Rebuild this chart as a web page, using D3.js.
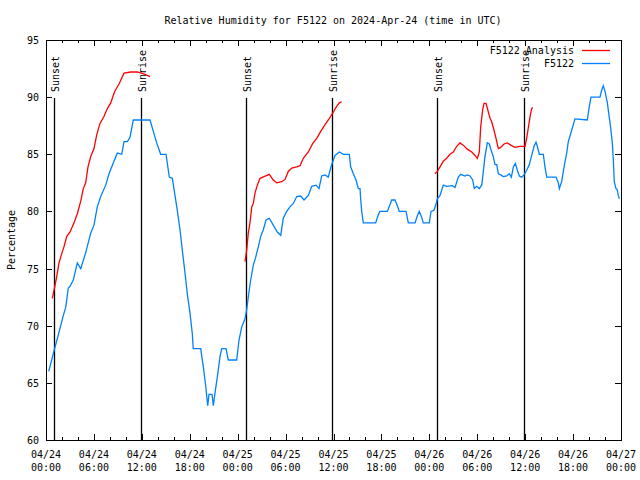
<!DOCTYPE html>
<html><head><meta charset="utf-8">
<script src="https://cdn.jsdelivr.net/npm/d3@7"></script>
<style>
body{margin:0;background:#fff;}
svg{display:block;}
text{font-family:"DejaVu Sans Mono","Liberation Mono",monospace;font-size:10px;fill:#000;}
</style></head><body>
<svg id="c" width="640" height="480"></svg>
<script>
// Hours since 2024-04-24 00:00 UTC
const obsHours = [0.34,1.04,1.54,2.17,2.47,2.79,2.97,3.42,3.92,4.35,4.97,5.60,6.01,6.42,6.85,7.48,7.89,8.51,8.93,9.48,9.77,10.18,10.52,10.93,13.02,13.44,13.86,14.36,15.03,15.44,15.82,16.15,16.44,16.78,17.07,17.41,17.69,18.03,18.32,18.44,19.37,19.70,20.00,20.25,20.41,20.79,20.95,21.16,21.45,21.79,22.00,22.54,22.83,23.88,24.17,24.51,24.92,25.13,25.33,25.63,25.96,26.26,26.58,26.88,27.21,27.55,27.96,28.46,28.96,29.39,29.71,30.14,30.55,30.97,31.39,31.89,32.31,32.85,33.27,33.81,34.18,34.52,34.94,35.35,35.65,35.90,36.19,36.73,37.23,37.98,38.15,38.48,38.82,39.11,39.32,39.41,39.53,39.73,41.28,41.61,41.82,42.74,43.08,43.29,43.70,43.99,44.24,45.08,45.37,46.21,46.49,46.74,47.04,47.24,48.00,48.21,48.58,48.83,49.00,49.34,49.75,50.18,50.88,51.21,51.63,51.93,52.47,52.75,53.09,53.43,53.63,53.93,54.26,54.56,54.76,54.97,55.26,55.51,55.72,56.01,56.22,56.44,56.64,56.94,57.26,57.69,58.01,58.27,58.52,58.77,59.02,59.27,59.57,59.85,60.19,60.52,60.82,61.11,61.36,61.52,61.77,62.27,62.48,62.70,63.86,64.15,64.28,64.57,64.78,64.99,65.20,65.40,65.70,66.03,66.24,67.78,68.03,68.24,69.37,69.58,69.78,70.00,70.29,70.50,70.71,70.91,71.04,71.16,71.37,71.53,71.66,71.79];
const obsValues = [66.0,67.9,69.2,70.9,71.6,73.3,73.4,74.0,75.5,75.0,76.4,78.1,78.8,80.4,81.3,82.3,83.3,84.4,85.1,85.0,86.1,86.1,86.5,88.0,88.0,87.0,86.0,85.0,85.0,83.0,82.9,81.4,80.1,78.4,76.6,74.6,72.8,71.1,69.3,68.0,68.0,66.4,64.7,63.0,64.0,64.0,63.0,64.1,65.5,67.3,68.0,68.0,67.0,67.0,68.75,69.9,70.6,71.4,72.5,74.0,75.3,76.0,76.9,77.8,78.4,79.25,79.4,78.8,78.2,77.9,79.4,80.0,80.4,80.7,81.3,81.35,81.0,81.4,82.2,82.3,82.0,83.1,83.2,83.0,83.8,84.35,84.9,85.2,85.0,85.0,83.9,83.3,82.75,82.0,82.0,81.0,80.0,79.0,79.0,79.7,80.0,80.0,80.6,81.0,81.0,80.5,80.0,80.0,79.0,79.0,79.6,80.0,79.5,79.0,79.0,80.0,80.1,80.6,81.1,81.4,82.3,82.2,82.25,82.1,83.0,83.25,83.1,83.2,83.1,82.75,82.0,82.2,82.0,82.3,83.5,84.8,86.0,85.9,85.4,84.8,84.1,84.1,83.3,83.2,83.05,83.1,83.3,83.0,83.9,84.2,83.6,83.1,83.0,83.2,83.6,84.1,84.9,85.7,86.05,85.7,85.0,85.0,83.9,83.0,83.0,82.5,82.0,82.6,83.5,84.35,85.1,86.1,86.8,87.6,88.1,88.0,89.2,90.0,90.0,90.6,91.0,90.5,89.5,88.4,87.3,86.0,84.5,82.6,82.0,81.9,81.4,81.1];

// Analysis series: null marks a gap between runs
const anaHours = [0.79,1.09,1.34,1.63,1.92,2.25,2.59,3.01,3.51,3.92,4.35,4.67,4.97,5.26,5.60,6.01,6.35,6.76,7.26,7.68,8.10,8.60,9.14,9.77,10.61,11.43,12.40,13.02,13.5,
  24.92,25.13,25.33,25.54,25.76,25.96,26.17,26.46,26.80,27.30,27.96,28.46,28.89,29.51,29.93,30.34,30.77,31.39,31.81,32.22,32.85,33.40,33.90,34.40,34.94,35.35,35.90,36.40,36.73,37.03,37.5,
  48.71,49.00,49.34,49.75,50.18,50.59,51.00,51.43,51.84,52.25,52.75,53.31,53.72,54.01,54.26,54.43,54.68,54.85,55.10,55.31,55.60,55.81,56.10,56.35,56.64,56.94,57.35,57.76,58.19,58.73,59.35,59.98,60.19,60.39,60.61,60.82,60.94];
const anaValues = [72.4,73.4,74.3,75.5,76.2,76.9,77.8,78.2,79.0,79.8,80.9,82.0,82.5,83.9,84.8,85.5,86.7,87.7,88.3,89.0,89.5,90.5,91.15,92.1,92.2,92.2,92.0,91.8,null,
  75.6,76.6,78.1,79.0,80.4,80.7,81.6,82.3,82.9,83.05,83.25,82.75,82.5,82.6,82.8,83.5,83.8,83.9,84.0,84.65,85.2,85.95,86.4,87.0,87.6,88.0,88.6,89.2,89.5,89.6,null,
  83.3,83.5,83.9,84.4,84.65,85.0,85.2,85.7,86.0,85.8,85.45,85.2,84.9,84.65,85.2,87.4,88.9,89.46,89.46,88.9,88.15,87.85,87.1,86.4,85.5,85.6,85.9,86.0,85.8,85.6,85.7,85.7,86.4,87.3,88.3,89.0,89.1];

const sunEventHours = [1.04,11.95,25.07,35.8,48.97,59.86];
const sunEventLabels = ["Sunset","Sunrise","Sunset","Sunrise","Sunset","Sunrise"];
const yTicks = [60,65,70,75,80,85,90,95];
const seriesNames = ["F5122 Analysis","F5122"];
const seriesColors = ["#ff0000","#0080ff"];
const titleText = "Relative Humidity for F5122 on 2024-Apr-24 (time in UTC)";

const start = Date.UTC(2024,3,24,0,0);
const toDate = h => new Date(start + h*3600000);

const L=46, R=621, T=40, B=440;
const svg = d3.select("#c");
const x = d3.scaleUtc().domain([toDate(0), toDate(72)]).range([L,R]);
const y = d3.scaleLinear().domain([60,95]).range([B,T]);

// frame
svg.append("rect").attr("x",L+0.5).attr("y",T+0.5).attr("width",R-L).attr("height",B-T)
  .attr("fill","none").attr("stroke","#000").attr("stroke-width",1);

// x ticks
const major = d3.range(0,73,6).map(toDate);
const minor = d3.range(0,73,2).filter(h=>h%6!==0).map(toDate);
const fmtD = d3.utcFormat("%m/%d"), fmtT = d3.utcFormat("%H:%M");
const gx = svg.append("g");
major.forEach(d=>{
  const px = Math.round(x(d))+0.5;
  gx.append("line").attr("x1",px).attr("x2",px).attr("y1",B).attr("y2",B-6).attr("stroke","#000");
  gx.append("line").attr("x1",px).attr("x2",px).attr("y1",T).attr("y2",T+6).attr("stroke","#000");
  gx.append("text").attr("x",x(d)).attr("y",458).attr("text-anchor","middle").text(fmtD(d));
  gx.append("text").attr("x",x(d)).attr("y",471).attr("text-anchor","middle").text(fmtT(d));
});
minor.forEach(d=>{
  const px = Math.round(x(d))+0.5;
  gx.append("line").attr("x1",px).attr("x2",px).attr("y1",B).attr("y2",B-3).attr("stroke","#000");
  gx.append("line").attr("x1",px).attr("x2",px).attr("y1",T).attr("y2",T+3).attr("stroke","#000");
});
// y ticks
const gy = svg.append("g");
yTicks.forEach(v=>{
  const py = Math.round(y(v))+0.5;
  gy.append("line").attr("x1",L).attr("x2",L+6).attr("y1",py).attr("y2",py).attr("stroke","#000");
  gy.append("line").attr("x1",R).attr("x2",R-6).attr("y1",py).attr("y2",py).attr("stroke","#000");
  gy.append("text").attr("x",39).attr("y",y(v)+4).attr("text-anchor","end").text(v);
});

// sun lines
sunEventHours.forEach((h,i)=>{
  const px = Math.round(x(toDate(h)))+0.5;
  svg.append("line").attr("x1",px).attr("x2",px).attr("y1",98).attr("y2",B).attr("stroke","#000").attr("stroke-width",1.3);
  svg.append("text").attr("transform",`translate(${px+4},92) rotate(-90)`).attr("text-anchor","start").text(sunEventLabels[i]);
});

// series
const obs = obsHours.map((h,i)=>({t:toDate(h),v:obsValues[i]}));
const ana = anaHours.map((h,i)=>({t:toDate(h),v:anaValues[i]}));
const line = d3.line().defined(d=>d.v!==null).x(d=>x(d.t)).y(d=>y(d.v));
svg.append("path").datum(ana).attr("d",line).attr("fill","none").attr("stroke",seriesColors[0]).attr("stroke-width",1.3);
svg.append("path").datum(obs).attr("d",line).attr("fill","none").attr("stroke",seriesColors[1]).attr("stroke-width",1.3);

// title and labels
svg.append("text").attr("x",333).attr("y",24).attr("text-anchor","middle").text(titleText);
svg.append("text").attr("transform","translate(15,240) rotate(-90)").attr("text-anchor","middle").text("Percentage");

// legend
seriesNames.forEach((n,i)=>{
  const ly = 50 + i*13;
  svg.append("text").attr("x",574).attr("y",ly+4).attr("text-anchor","end").text(n);
  svg.append("line").attr("x1",582).attr("x2",610).attr("y1",ly+0.5).attr("y2",ly+0.5).attr("stroke",seriesColors[i]).attr("stroke-width",1.3);
});
</script></body></html>
